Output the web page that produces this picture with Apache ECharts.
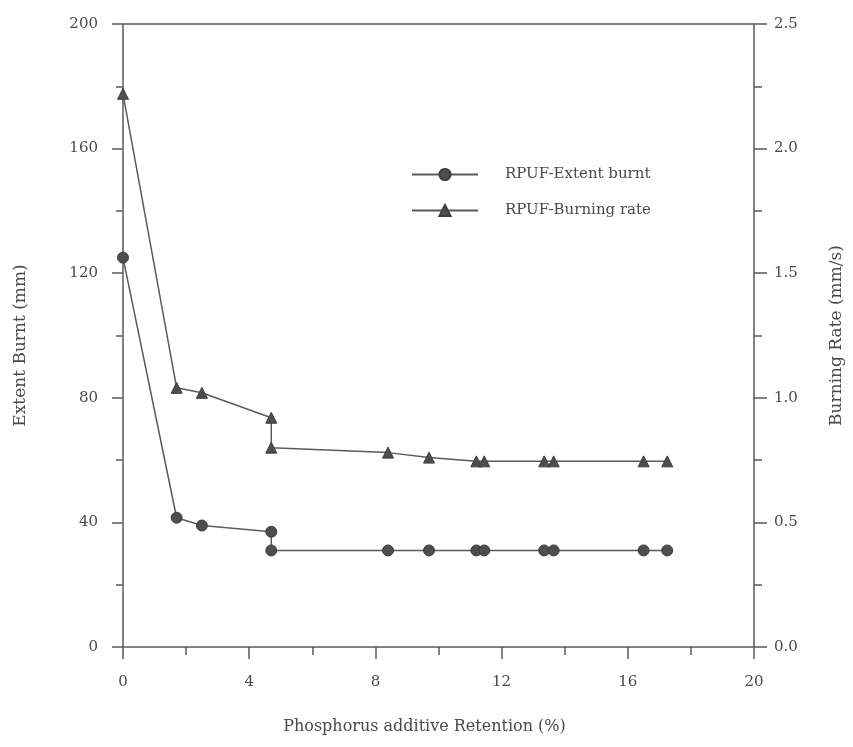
<!DOCTYPE html>
<html>
<head>
<meta charset="utf-8">
<script src="https://cdn.jsdelivr.net/npm/echarts@6/dist/echarts.min.js"></script>
<style>
	html, body { margin: 0; padding: 0; background: #fff; }
	#chart { width: 853px; height: 747px; }
</style>
</head>
<body>
<div id="chart"></div>
<script>
'use strict';

// x values shared by both series (Phosphorus additive retention, %)
var retention = [0, 1.7, 2.5, 4.7, 4.7, 8.4, 9.7, 11.2, 11.45, 13.35, 13.65, 16.5, 17.25];
// extent burnt, mm (left axis)
var extentBurnt = [125, 41.5, 39, 37, 31, 31, 31, 31, 31, 31, 31, 31, 31];
// burning rate, mm/s (right axis)
var burningRate = [2.22, 1.04, 1.02, 0.92, 0.80, 0.78, 0.76, 0.745, 0.745, 0.745, 0.745, 0.745, 0.745];

var seriesNames = ['RPUF-Extent burnt', 'RPUF-Burning rate'];
var leftTicks = [0, 40, 80, 120, 160, 200];
var rightTicks = [0, 0.5, 1.0, 1.5, 2.0, 2.5];

var lineColor = '#5a5a5a';
var textColor = '#4a4a4a';
var fontFamily = '"DejaVu Serif", "Liberation Serif", serif';

var pairs = function (xs, ys) {
	return xs.map(function (x, i) { return [x, ys[i]]; });
};

var axisLine = { show: true, onZero: false, lineStyle: { color: lineColor, width: 1.5 } };

var chart = echarts.init(document.getElementById('chart'));

chart.setOption({
	backgroundColor: '#fff',
	textStyle: { fontFamily: fontFamily, color: textColor },
	grid: { left: 123, right: 98, top: 24, bottom: 100 },
	legend: {
		left: 406,
		top: 162,
		orient: 'vertical',
		itemWidth: 66,
		itemHeight: 14,
		itemGap: 21,
		textStyle: { fontFamily: fontFamily, fontSize: 15, color: textColor, padding: [0, 0, 0, 22] },
		data: seriesNames
	},
	xAxis: [{
		type: 'value',
		min: 0,
		max: 20,
		interval: 4,
		name: 'Phosphorus additive Retention (%)',
		nameLocation: 'middle',
		nameGap: 72,
		nameTextStyle: { fontSize: 16, color: textColor, fontFamily: fontFamily, padding: [0, 28, 0, 0] },
		axisLine: axisLine,
		axisTick: { show: true, length: 12, lineStyle: { color: lineColor, width: 1.5 } },
		minorTick: { show: true, splitNumber: 2, length: 8, lineStyle: { color: lineColor, width: 1.5 } },
		axisLabel: { fontSize: 15, color: textColor, margin: 28 },
		splitLine: { show: false }
	}, {
		type: 'value',
		position: 'top',
		min: 0,
		max: 20,
		axisLine: axisLine,
		axisTick: { show: false },
		axisLabel: { show: false },
		splitLine: { show: false }
	}],
	yAxis: [{
		type: 'value',
		min: 0,
		max: 200,
		interval: 40,
		name: 'Extent Burnt (mm)',
		nameLocation: 'middle',
		nameRotate: 90,
		nameGap: 94,
		nameTextStyle: { fontSize: 17, color: textColor, fontFamily: fontFamily, padding: [0, 20, 0, 0] },
		axisLine: axisLine,
		axisTick: { show: true, length: 11, lineStyle: { color: lineColor, width: 1.5 } },
		minorTick: { show: true, splitNumber: 2, length: 7, lineStyle: { color: lineColor, width: 1.5 } },
		axisLabel: {
			fontSize: 15, color: textColor, margin: 25,
			formatter: function (v) { return leftTicks.indexOf(v) >= 0 ? String(v) : ''; }
		},
		splitLine: { show: false }
	}, {
		type: 'value',
		position: 'right',
		min: 0,
		max: 2.5,
		interval: 0.5,
		name: 'Burning Rate (mm/s)',
		nameLocation: 'middle',
		nameRotate: 90,
		nameGap: 74,
		nameTextStyle: { fontSize: 17, color: textColor, fontFamily: fontFamily },
		axisLine: axisLine,
		axisTick: { show: true, length: 13, lineStyle: { color: lineColor, width: 1.5 } },
		minorTick: { show: true, splitNumber: 2, length: 8, lineStyle: { color: lineColor, width: 1.5 } },
		axisLabel: {
			fontSize: 15, color: textColor, margin: 20,
			formatter: function (v) { return rightTicks.indexOf(v) >= 0 ? v.toFixed(1) : ''; }
		},
		splitLine: { show: false }
	}],
	series: [{
		name: seriesNames[0],
		type: 'line',
		xAxisIndex: 0,
		yAxisIndex: 0,
		symbol: 'circle',
		symbolSize: 11,
		showAllSymbol: true,
		lineStyle: { color: lineColor, width: 1.5 },
		itemStyle: { color: '#4e4e4e', borderColor: '#3e3e3e', borderWidth: 1 },
		data: pairs(retention, extentBurnt)
	}, {
		name: seriesNames[1],
		type: 'line',
		xAxisIndex: 0,
		yAxisIndex: 1,
		symbol: 'triangle',
		symbolSize: 11,
		showAllSymbol: true,
		lineStyle: { color: lineColor, width: 1.5 },
		itemStyle: { color: '#4e4e4e', borderColor: '#3e3e3e', borderWidth: 1 },
		data: pairs(retention, burningRate)
	}]
});
</script>
</body>
</html>
